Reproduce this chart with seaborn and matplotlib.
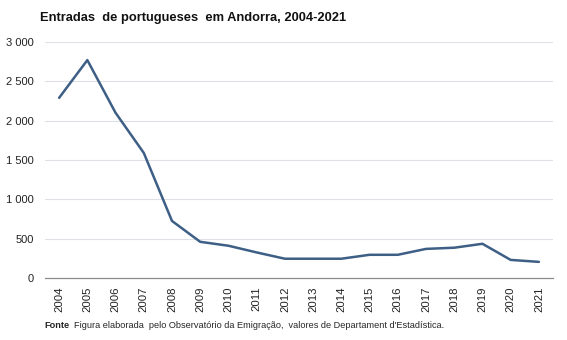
import matplotlib
matplotlib.use("Agg")
import matplotlib.pyplot as plt
import seaborn as sns
import pandas as pd

years = [str(y) for y in range(2004, 2022)]
entradas = [2290, 2770, 2100, 1590, 725, 460, 410, 325, 245, 245, 245, 295, 295, 370, 385, 435, 230, 205]
yticks = [0, 500, 1000, 1500, 2000, 2500, 3000]
ytick_labels = ["0", "500", "1 000", "1 500", "2 000", "2 500", "3 000"]

sns.set_theme(style="white")
plt.rcParams['font.family'] = ['Liberation Sans', 'DejaVu Sans']

df = pd.DataFrame({"ano": years, "entradas": entradas})

fig = plt.figure(figsize=(5.67, 3.4), dpi=100)
ax = fig.add_axes([45/567, 62/340, 508/567, 236/340])
ax.set_ylim(0, 3000)
ax.set_yticks(yticks)
ax.set_yticklabels(ytick_labels, fontsize=8, color="#222222")
for y in yticks[1:]:
    ax.axhline(y, color="#dde1e6", lw=0.8, zorder=0)
sns.lineplot(data=df, x="ano", y="entradas", ax=ax, color="#3e5f85", lw=1.8, sort=False)
ax.set_xlim(-0.5, len(years) - 0.5)
ax.set_xlabel("")
ax.set_ylabel("")
for s in ["top", "right", "left"]:
    ax.spines[s].set_visible(False)
ax.spines["bottom"].set_color("#8c8c8c")
ax.spines["bottom"].set_linewidth(0.9)
ax.tick_params(axis="x", labelrotation=90, labelsize=8.2, length=0, pad=6, colors="#222222")
ax.tick_params(axis="y", length=0, pad=8)
ax.grid(False)

fig.text(40/567, 1 - 18/340, "Entradas  de portugueses  em Andorra, 2004-2021", fontsize=9.3,
         fontweight="bold", va="center", ha="left", color="#111111")
fig.text(44/567, 1 - 326/340, "Fonte", fontsize=6.6, fontweight="bold", va="center", ha="left")
fig.text(74/567, 1 - 326/340, "Figura elaborada  pelo Observatório da Emigração,  valores de Departament d'Estadística.",
         fontsize=6.6, va="center", ha="left")

fig.savefig("out.png", dpi=100)
